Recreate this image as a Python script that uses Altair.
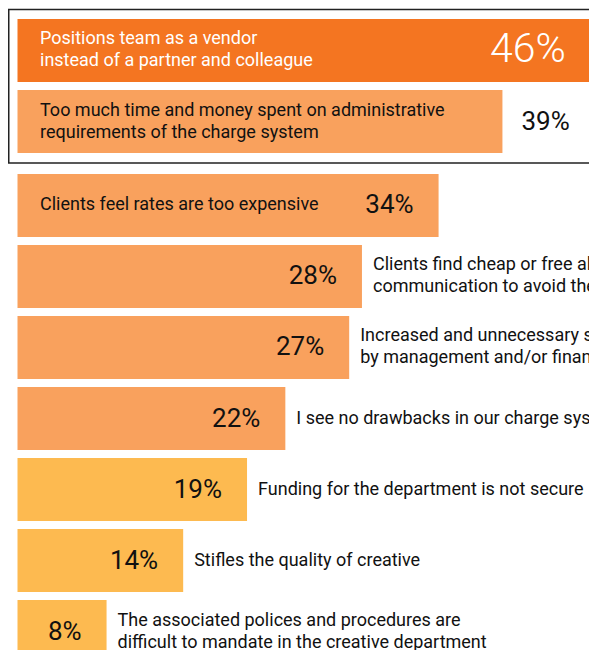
import altair as alt
import pandas as pd

labels = [
    "Positions team as a vendor\ninstead of a partner and colleague",
    "Too much time and money spent on administrative\nrequirements of the charge system",
    "Clients feel rates are too expensive",
    "Clients find cheap or free alternative methods of\ncommunication to avoid the charge system",
    "Increased and unnecessary scrutiny of projects\nby management and/or finance",
    "I see no drawbacks in our charge system",
    "Funding for the department is not secure",
    "Stifles the quality of creative",
    "The associated polices and procedures are\ndifficult to mandate in the creative department",
]
values = [46, 39, 34, 28, 27, 22, 19, 14, 8]
tiers = ["Top", "High", "High", "High", "High", "High", "Mid", "Mid", "Mid"]

df = pd.DataFrame({"label": labels, "value": values, "tier": tiers})
df["pct"] = df["value"].astype(str) + "%"
df_top = df.iloc[:2]
df_bot = df.iloc[2:]

FONT = "Roboto"
W = 581
xs = alt.Scale(domain=[0, 50], range=[-3.6, -3.6 + 12.77 * 50])
X = alt.X("value:Q", scale=xs, axis=None)
X2 = alt.datum(1.026)  # bar start (left edge of every bar)
col = alt.Color("tier:N", legend=None,
                scale=alt.Scale(domain=["Top", "High", "Mid"],
                                range=["#F47521", "#F9A15D", "#FDBA50"]))

MULTI = "indexof(datum.label, '\\n') >= 0"
SINGLE = "indexof(datum.label, '\\n') < 0"
TXT = dict(baseline="middle", font=FONT, fontSize=18, fontWeight=400,
           lineBreak="\n", lineHeight=22, clip=True)
PCT = dict(baseline="middle", font=FONT, fontSize=26, fontWeight=400, clip=True)

# ---------- top (boxed) panel ----------
ys_top = alt.Scale(range=[11, 145], paddingInner=0.1127, paddingOuter=0)
Y_top = alt.Y("label:N", sort=None, scale=ys_top, axis=None)
base_top = alt.Chart(df_top)

box = alt.Chart(alt.Data(values=[{}])).mark_rect(
    fill=None, stroke="#222", strokeWidth=1.5, clip=True
).encode(x=alt.value(0.75), x2=alt.value(700), y=alt.value(1.5), y2=alt.value(155))

bars_top = base_top.mark_bar(clip=True).encode(x=X, x2=X2, y=Y_top, color=col)
desc_top = base_top.mark_text(align="left", dy=-11, **TXT).encode(
    x=alt.value(32), y=Y_top, text="label:N",
    color=alt.condition("datum.value >= 40", alt.value("white"), alt.value("#111")),
)
pct_big = base_top.transform_filter("datum.value >= 40").mark_text(
    align="right", baseline="middle", font=FONT, fontSize=41, fontWeight=300,
    color="white", dx=-26, clip=True
).encode(x=X, y=Y_top, text="pct:N")
pct_out = base_top.transform_filter("datum.value < 40").mark_text(
    align="left", color="#111", dx=19, **PCT
).encode(x=X, y=Y_top, text="pct:N")

top = alt.layer(box, bars_top, desc_top, pct_big, pct_out).properties(width=W, height=156)

# ---------- bottom panel ----------
ys_bot = alt.Scale(range=[0, 489], paddingInner=0.1127, paddingOuter=0)
Y_bot = alt.Y("label:N", sort=None, scale=ys_bot, axis=None)
base_bot = alt.Chart(df_bot)

bars_bot = base_bot.mark_bar(clip=True).encode(x=X, x2=X2, y=Y_bot, color=col)
pct_in = base_bot.mark_text(align="right", color="#111", dx=-25, **PCT).encode(
    x=X, y=Y_bot, text="pct:N")
desc_in = base_bot.transform_filter("datum.value >= 30").mark_text(
    align="left", color="#111", **TXT
).encode(x=alt.value(32), y=Y_bot, text="label:N")
desc_out_1 = base_bot.transform_filter("datum.value < 30").transform_filter(SINGLE).mark_text(
    align="left", color="#111", dx=11, **TXT
).encode(x=X, y=Y_bot, text="label:N")
desc_out_2 = base_bot.transform_filter("datum.value < 30").transform_filter(MULTI).mark_text(
    align="left", color="#111", dx=11, dy=-11, **TXT
).encode(x=X, y=Y_bot, text="label:N")

bottom = alt.layer(bars_bot, pct_in, desc_in, desc_out_1, desc_out_2).properties(
    width=W, height=476)

chart = alt.vconcat(top, bottom, spacing=10).properties(
    padding=0
).configure_view(stroke=None)

chart.save("out.html", embed_options={"renderer": "svg", "actions": False})
